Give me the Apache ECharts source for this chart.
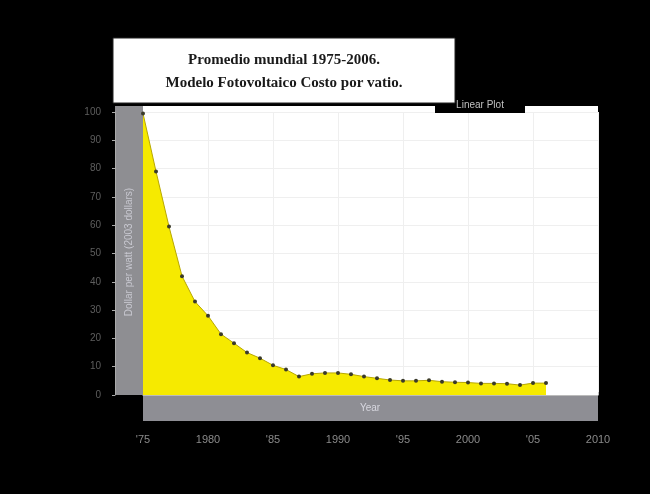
<!DOCTYPE html>
<html><head><meta charset="utf-8">
<script src="https://cdn.jsdelivr.net/npm/echarts@6/dist/echarts.min.js"></script>
<style>html,body{margin:0;padding:0;background:#000}#c{width:650px;height:494px}</style>
</head><body><div id="c"></div>
<script>
const years = [1975,1976,1977,1978,1979,1980,1981,1982,1983,1984,1985,1986,1987,1988,1989,1990,1991,1992,1993,1994,1995,1996,1997,1998,1999,2000,2001,2002,2003,2004,2005,2006];
const costPerWatt = [99.5,79,59.5,42,33,28,21.5,18.3,15,13,10.5,9,6.5,7.5,7.8,7.8,7.3,6.5,5.9,5.3,5.0,5.0,5.2,4.7,4.5,4.4,4.1,4.1,4.0,3.5,4.2,4.2];
const xTickLabels = {1975:"'75",1980:"1980",1985:"'85",1990:"1990",1995:"'95",2000:"2000",2005:"'05",2010:"2010"};
const titleLines = ["Promedio mundial 1975-2006.","Modelo Fotovoltaico Costo por vatio."];
const xName = 'Year';
const yName = 'Dollar per watt (2003 dollars)';

const chart = echarts.init(document.getElementById('c'));
chart.setOption({
  backgroundColor:'#000',
  animation:false,
  grid:{left:143,right:52,top:112,bottom:99,show:true,backgroundColor:'#fff',borderWidth:0},
  xAxis:{type:'value',min:1975,max:2010,interval:5,offset:26,
    axisLine:{show:true,lineStyle:{color:'#bbb',width:1}},
    axisTick:{show:true,inside:true,length:3,lineStyle:{color:'#bbb'}},
    axisLabel:{color:'#8a8a8a',fontSize:11,margin:13,fontFamily:'Liberation Sans',formatter:v=>xTickLabels[v]||''},
    splitLine:{show:true,lineStyle:{color:'#efefef',width:1}}},
  yAxis:{type:'value',min:0,max:100,interval:10,offset:28,
    axisLine:{show:true,lineStyle:{color:'#aaa',width:1}},
    axisTick:{show:true,length:3,lineStyle:{color:'#aaa'}},
    axisLabel:{color:'#5e5e5e',fontSize:10,margin:14,fontFamily:'Liberation Sans'},
    splitLine:{show:true,lineStyle:{color:'#efefef',width:1}}},
  graphic:[
    {type:'rect',z:-1,shape:{x:115,y:106,width:28,height:289},style:{fill:'#8e8e92'}},
    {type:'rect',z:-1,shape:{x:143,y:395,width:455,height:26},style:{fill:'#8e8e94'}},
    {type:'rect',z:-1,shape:{x:143,y:106,width:455,height:6},style:{fill:'#fff'}},
    {type:'text',z:5,x:370,y:408,style:{text:xName,fill:'#d8d8e0',fontSize:10,fontFamily:'Liberation Sans',align:'center',verticalAlign:'middle'}},
    {type:'text',z:5,x:129,y:252,rotation:Math.PI/2,style:{text:yName,fill:'#c8c8d0',fontSize:10,fontFamily:'Liberation Sans',align:'center',verticalAlign:'middle'}},
    {type:'rect',z:10,shape:{x:435,y:97,width:90,height:16},style:{fill:'#000'}},
    {type:'text',z:11,x:480,y:105,style:{text:'Linear Plot',fill:'#c0c0c0',fontSize:10,fontFamily:'Liberation Sans',align:'center',verticalAlign:'middle'}},
    {type:'rect',z:10,shape:{x:113,y:38,width:342,height:65},style:{fill:'#fff',stroke:'#222',lineWidth:1}},
    {type:'text',z:11,x:284,y:60,style:{text:titleLines[0],fill:'#1a1a1a',font:'bold 15px "Liberation Serif"',align:'center',verticalAlign:'middle'}},
    {type:'text',z:11,x:284,y:83,style:{text:titleLines[1],fill:'#1a1a1a',font:'bold 15px "Liberation Serif"',align:'center',verticalAlign:'middle'}}
  ],
  series:[{type:'line',data:years.map((y,i)=>[y,costPerWatt[i]]),
    symbol:'circle',symbolSize:4,
    lineStyle:{color:'#b8a800',width:1},
    itemStyle:{color:'#3a3a2a'},
    areaStyle:{color:'#f6ea00',opacity:1}}]
});
</script></body></html>
